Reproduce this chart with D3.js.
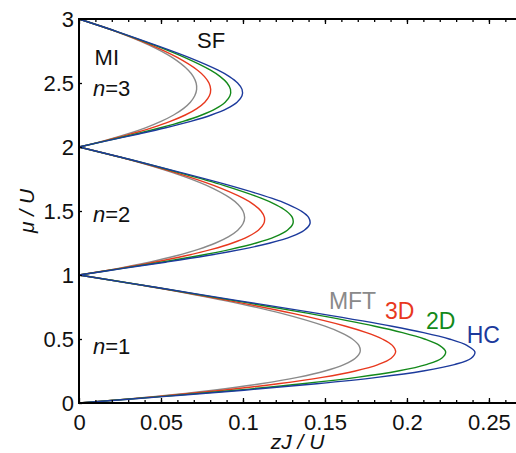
<!DOCTYPE html>
<html lang="en">
<head>
  <meta charset="UTF-8">
  <title>Mott lobes</title>
  <script src="https://d3js.org/d3.v7.min.js"></script>
  <style>
    body {
      margin: 0;
      background: #fff;
    }
    svg {
      display: block;
      font-family: 'Liberation Sans', Arial, sans-serif;
    }
    .tick line {
      stroke: #000;
      stroke-width: 1.3;
    }
    .tick text {
      font-size: 22px;
      fill: #111;
    }
  </style>
</head>
<body>

<svg width="516" height="453"></svg>

<script>
// offsets of mu/U inside each lobe (mu = n - 1 + t)
const tGrid = [0, 0.05, 0.1, 0.15, 0.2, 0.25, 0.3, 0.35, 0.4, 0.45, 0.5, 0.55, 0.6, 0.7, 0.8, 0.9, 1];

// zJ/U of the lobe boundary
const mftLobe1 = [0, .04524, .08182, .11087, .13333, .15, .16154, .16852, .17143, .17069, .16667, .15968, .15, .12353, .08889, .04737, 0];
const cubLobe1 = [0, .04703, .08764, .12141, .14830, .16851, .18238, .19039, .19310, .19109, .18495, .17530, .16265, .13036, .09139, .04774, 0];
const sqLobe1  = [0, .04956, .09583, .13627, .16940, .19458, .21173, .22118, .22360, .21980, .21069, .19727, .18044, .13998, .09490, .04827, 0];
const hcLobe1  = [0, .05103, .10061, .14495, .18173, .20981, .22889, .23918, .24143, .23658, .22574, .21011, .19083, .14561, .09696, .04858, 0];

const mftLobe2 = [0, .02317, .04286, .05930, .07273, .08333, .09130, .09681, .1, .10102, .1, .09706, .09231, .07778, .05714, .03103, 0];
const cubLobe2 = [0, .02409, .04591, .06494, .08090, .09361, .10308, .10938, .11264, .11309, .11097, .10655, .10009, .08208, .05875, .03128, 0];
const sqLobe2  = [0, .02538, .05020, .07289, .09240, .10810, .11967, .12706, .13043, .13008, .12641, .11991, .11104, .08814, .06100, .03162, 0];
const hcLobe2  = [0, .02614, .05270, .07753, .09913, .11656, .12936, .13740, .14083, .14001, .13544, .12771, .11744, .09168, .06233, .03182, 0];

const mftLobe3 = [0, .01557, .02903, .04048, .05, .05769, .06364, .06791, .07059, .07174, .07143, .06972, .06667, .05676, .04211, .02308, 0];
const cubLobe3 = [0, .01619, .03109, .04433, .05562, .06481, .07185, .07672, .07951, .08031, .07927, .07654, .07229, .05990, .04329, .02326, 0];
const sqLobe3  = [0, .01706, .03400, .04975, .06353, .07484, .08341, .08913, .09207, .09238, .09029, .08613, .08020, .06432, .04496, .02352, 0];
const hcLobe3  = [0, .01756, .03570, .05292, .06815, .08069, .09017, .09639, .09941, .09943, .09674, .09174, .08482, .06690, .04593, .02367, 0];

const methods = ["MFT", "3D", "2D", "HC"];
const colors = ["#8a8a8a", "#e8381e", "#13891a", "#1c3a9c"];

const xMajor = [0, 0.05, 0.1, 0.15, 0.2, 0.25];
const yMajor = [0, 0.5, 1, 1.5, 2, 2.5, 3];

// text labels in data coordinates
const labels = [
  {text: "SF",  x: 0.0720, y: 2.773, color: "#111", size: 22},
  {text: "MI",  x: 0.0095, y: 2.641, color: "#111", size: 22},
  {text: "MFT", x: 0.1524, y: 0.734, color: colors[0], size: 23},
  {text: "3D",  x: 0.1866, y: 0.656, color: colors[1], size: 23},
  {text: "2D",  x: 0.2116, y: 0.578, color: colors[2], size: 23},
  {text: "HC",  x: 0.2364, y: 0.469, color: colors[3], size: 23}
];
const fillings = [
  {n: 3, x: 0.0085, y: 2.398},
  {n: 2, x: 0.0085, y: 1.414},
  {n: 1, x: 0.0085, y: 0.383}
];

const svg = d3.select("svg"),
      margin = {top: 19, right: 0, bottom: 50, left: 79},
      W = +svg.attr("width"),
      H = +svg.attr("height");

const x = d3.scaleLinear().domain([0, 0.2665]).range([margin.left, W - margin.right]);
const y = d3.scaleLinear().domain([0, 3]).range([H - margin.bottom, margin.top]);

const lobes = [
  [mftLobe1, cubLobe1, sqLobe1, hcLobe1],
  [mftLobe2, cubLobe2, sqLobe2, hcLobe2],
  [mftLobe3, cubLobe3, sqLobe3, hcLobe3]
];

const line = d3.line()
  .curve(d3.curveCatmullRom.alpha(0.5))
  .x(d => x(d.zj))
  .y(d => y(d.mu));

// draw grey first, blue last
methods.forEach((m, k) => {
  lobes.forEach((lobe, i) => {
    const pts = tGrid.map((t, j) => ({mu: i + t, zj: lobe[k][j]}));
    svg.append("path")
      .datum(pts)
      .attr("fill", "none")
      .attr("stroke", colors[k])
      .attr("stroke-width", 1.4)
      .attr("d", line);
  });
});

// axes, ticks pointing inward
const minor = d3.range(1, 27).map(i => i / 100);

svg.append("g")
  .attr("transform", `translate(0,${y(0)})`)
  .call(d3.axisBottom(x).tickValues(minor).tickSize(-3).tickFormat(""))
  .call(g => g.select(".domain").remove());

svg.append("g")
  .attr("transform", `translate(0,${y(0)})`)
  .call(d3.axisBottom(x).tickValues(xMajor).tickSize(-5).tickPadding(11).tickFormat(d => String(d)))
  .call(g => g.select(".domain").remove());

svg.append("g")
  .attr("transform", `translate(0,${y(3)})`)
  .call(d3.axisTop(x).tickValues(minor).tickSize(-3).tickFormat(""))
  .call(g => g.select(".domain").remove());

svg.append("g")
  .attr("transform", `translate(0,${y(3)})`)
  .call(d3.axisTop(x).tickValues(xMajor).tickSize(-5).tickFormat(""))
  .call(g => g.select(".domain").remove());

svg.append("g")
  .attr("transform", `translate(${x(0)},0)`)
  .call(d3.axisLeft(y).tickValues(yMajor).tickSize(-3).tickPadding(5).tickFormat(d => String(d)))
  .call(g => g.select(".domain").remove());

// frame
svg.append("path")
  .attr("fill", "none")
  .attr("stroke", "#000")
  .attr("stroke-width", 2)
  .attr("d", `M${W},${y(3)}H${x(0)}V${y(0)}H${W}`);

// axis titles
svg.append("text")
  .attr("x", (x(0) + W) / 2)
  .attr("y", 449)
  .attr("text-anchor", "middle")
  .attr("font-size", "21px")
  .attr("font-style", "italic")
  .attr("fill", "#111")
  .text("zJ / U");

svg.append("text")
  .attr("transform", `translate(34,${(y(0) + y(3)) / 2}) rotate(-90)`)
  .attr("text-anchor", "middle")
  .attr("font-size", "21px")
  .attr("font-style", "italic")
  .attr("fill", "#111")
  .text("μ / U");

// labels
svg.selectAll(".lbl")
  .data(labels)
  .join("text")
  .attr("class", "lbl")
  .attr("x", d => x(d.x))
  .attr("y", d => y(d.y))
  .attr("font-size", d => d.size + "px")
  .attr("fill", d => d.color)
  .text(d => d.text);

const nl = svg.selectAll(".nlbl")
  .data(fillings)
  .join("text")
  .attr("class", "nlbl")
  .attr("x", d => x(d.x))
  .attr("y", d => y(d.y))
  .attr("font-size", "22px")
  .attr("fill", "#111");
nl.append("tspan").attr("font-style", "italic").text("n");
nl.append("tspan").text(d => "=" + d.n);
</script>

</body>
</html>
